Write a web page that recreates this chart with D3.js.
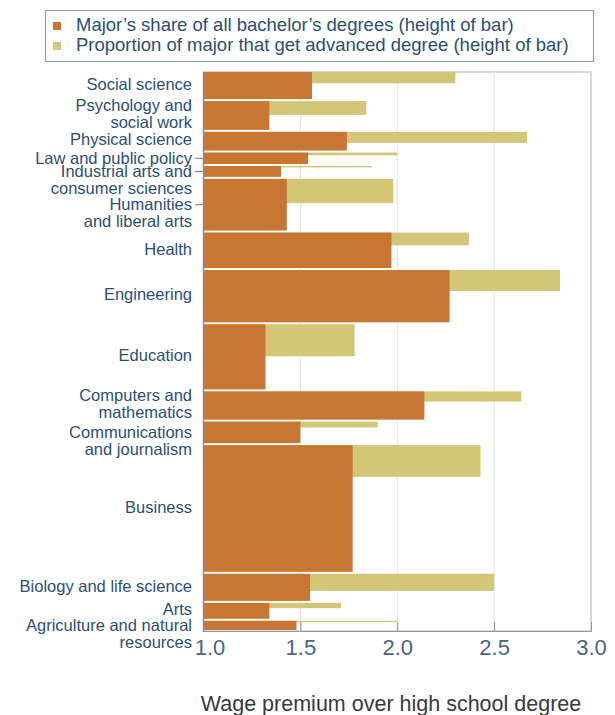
<!DOCTYPE html>
<html>
<head>
<meta charset="utf-8">
<script src="https://cdn.jsdelivr.net/npm/d3@7"></script>
<style>
  body { margin: 0; background: #fff; }
  text { font-family: "Liberation Sans", Arial, sans-serif; }
</style>
</head>
<body>
<div id="chart"></div>
<script>
// majors, top to bottom
let majors = ["Social science", "Psychology and social work", "Physical science",
    "Law and public policy", "Industrial arts and consumer sciences", "Humanities and liberal arts",
    "Health", "Engineering", "Education", "Computers and mathematics",
    "Communications and journalism", "Business", "Biology and life science", "Arts",
    "Agriculture and natural resources"];

let labelLines = [["Social science"], ["Psychology and", "social work"], ["Physical science"],
    ["Law and public policy"], ["Industrial arts and", "consumer sciences"], ["Humanities", "and liberal arts"],
    ["Health"], ["Engineering"], ["Education"], ["Computers and", "mathematics"],
    ["Communications", "and journalism"], ["Business"], ["Biology and life science"], ["Arts"],
    ["Agriculture and natural", "resources"]];

// share of all bachelor's degrees (%), bar height
let bachelorShare = [5.2, 5.5, 3.7, 2.4, 2.3, 9.6, 6.7, 9.7, 12.0, 5.4, 4.2, 23.0, 5.2, 3.2, 2.0];
// wage premium with bachelor's degree
let bachelorPremium = [1.56, 1.34, 1.74, 1.54, 1.40, 1.43, 1.97, 2.27, 1.32, 2.14, 1.50, 1.77, 1.55, 1.34, 1.48];
// proportion of major that gets an advanced degree
let advancedShare = [0.42, 0.48, 0.59, 0.24, 0.13, 0.47, 0.36, 0.40, 0.49, 0.36, 0.27, 0.25, 0.63, 0.33, 0.15];
// wage premium with advanced degree
let advancedPremium = [2.30, 1.84, 2.67, 2.00, 1.87, 1.98, 2.37, 2.84, 1.78, 2.64, 1.90, 2.43, 2.50, 1.71, 2.00];

let tickValues = [1.0, 1.5, 2.0, 2.5, 3.0];
let legendLabels = ["Major\u2019s share of all bachelor\u2019s degrees (height of bar)",
    "Proportion of major that get advanced degree (height of bar)"];

let tickedLabels = ["Law and public policy", "Industrial arts and consumer sciences", "Humanities and liberal arts"];
let firstLineCentered = tickedLabels.concat(["Communications and journalism", "Agriculture and natural resources"]);

let margin = { top: 72, left: 203.5, right: 24, bottom: 84 };
let width = 615 - margin.left - margin.right;
let height = 632 - margin.top;

let orange = "#c87634";
let yellow = "#d3c677";
let textColor = "#2b4f74";

let data = majors.map((m, i) => ({
    major: m,
    lines: labelLines[i],
    share: bachelorShare[i],
    bach: bachelorPremium[i],
    advShare: advancedShare[i],
    adv: advancedPremium[i]
}));

let cum = 0;
data.forEach(d => { d.start = cum; cum += d.share; });

let x = d3.scaleLinear().domain([1, 3]).range([0, width]);
let y = d3.scaleLinear().domain([0, cum]).range([0, height]);

let svg = d3.select("#chart").append("svg")
    .attr("width", 615)
    .attr("height", 715);

// legend
let legend = svg.append("g");
legend.append("rect")
    .attr("x", 45.5).attr("y", 10.5)
    .attr("width", 548).attr("height", 51)
    .attr("fill", "none").attr("stroke", "#8e9db0");
legend.selectAll(".key")
    .data(legendLabels)
    .enter().append("rect")
    .attr("x", 53).attr("y", (d, i) => 22 + i * 20)
    .attr("width", 8).attr("height", 8)
    .attr("fill", (d, i) => i === 0 ? orange : yellow);
legend.selectAll(".ltext")
    .data(legendLabels)
    .enter().append("text")
    .attr("x", 76).attr("y", (d, i) => 31 + i * 20)
    .attr("font-size", 18.5)
    .attr("fill", textColor)
    .text(d => d);

let g = svg.append("g")
    .attr("transform", "translate(" + margin.left + "," + margin.top + ")");

// frame and gridlines
g.append("rect")
    .attr("x", 0).attr("y", 0)
    .attr("width", width).attr("height", height - 1)
    .attr("fill", "none").attr("stroke", "#aab6c4");

g.selectAll(".grid")
    .data(tickValues.slice(1, -1))
    .enter().append("line")
    .attr("x1", d => x(d)).attr("x2", d => x(d))
    .attr("y1", 0).attr("y2", height)
    .attr("stroke", "#dde2e8");

// advanced degree bars (behind)
g.selectAll(".adv")
    .data(data)
    .enter().append("rect")
    .attr("x", x(1))
    .attr("y", d => y(d.start))
    .attr("width", d => x(d.adv) - x(1))
    .attr("height", d => Math.max(1, d.advShare * (y(d.share) - 2)))
    .attr("fill", yellow);

// bachelor's bars
g.selectAll(".bach")
    .data(data)
    .enter().append("rect")
    .attr("x", x(1))
    .attr("y", d => y(d.start))
    .attr("width", d => x(d.bach) - x(1))
    .attr("height", d => y(d.share) - 2)
    .attr("fill", orange);

// x axis
let xAxis = d3.axisBottom(x)
    .tickValues(tickValues)
    .tickSize(-9)
    .tickPadding(8)
    .tickFormat(d3.format(".1f"));

let xAxisGroup = g.append("g")
    .attr("class", "x-axis axis")
    .attr("transform", "translate(0," + (height - 1) + ")")
    .call(xAxis);
xAxisGroup.select(".domain").attr("stroke", "#8d9aab");
xAxisGroup.selectAll(".tick line").attr("stroke", "#7f8c9c");
xAxisGroup.selectAll(".tick").filter(d => d === 1 || d === 3).select("line").remove();
xAxisGroup.selectAll(".tick text")
    .attr("font-size", 22)
    .attr("font-family", "Liberation Sans, Arial, sans-serif")
    .attr("fill", "#4a6583")
    .attr("dx", d => d === 1 ? 6 : 0);

// left axis line
g.append("line")
    .attr("x1", 0).attr("x2", 0)
    .attr("y1", 0).attr("y2", height)
    .attr("stroke", "#858b93").attr("stroke-width", 1.5);

// category labels
let lineH = 17;
let labels = g.selectAll(".label")
    .data(data)
    .enter().append("g")
    .attr("class", "label")
    .attr("transform", d => {
        let c = y(d.start) + (y(d.share) - 2) / 2;
        let top = firstLineCentered.includes(d.major) ? c : c - 1.5 - (d.lines.length - 1) * lineH / 2;
        return "translate(-11.5," + top + ")";
    });

labels.selectAll("text")
    .data(d => d.lines)
    .enter().append("text")
    .attr("y", (d, i) => i * lineH)
    .attr("dy", "0.35em")
    .attr("text-anchor", "end")
    .attr("font-size", 16.5)
    .attr("fill", textColor)
    .text(d => d);

labels.filter(d => tickedLabels.includes(d.major))
    .append("line")
    .attr("x1", 3).attr("x2", 11)
    .attr("y1", 0).attr("y2", 0)
    .attr("stroke", "#6f7d8c");

// axis title
svg.append("text")
    .attr("x", 391).attr("y", 711)
    .attr("text-anchor", "middle")
    .attr("font-size", 21.5)
    .attr("fill", "#3a3a3a")
    .text("Wage premium over high school degree");
</script>
</body>
</html>
